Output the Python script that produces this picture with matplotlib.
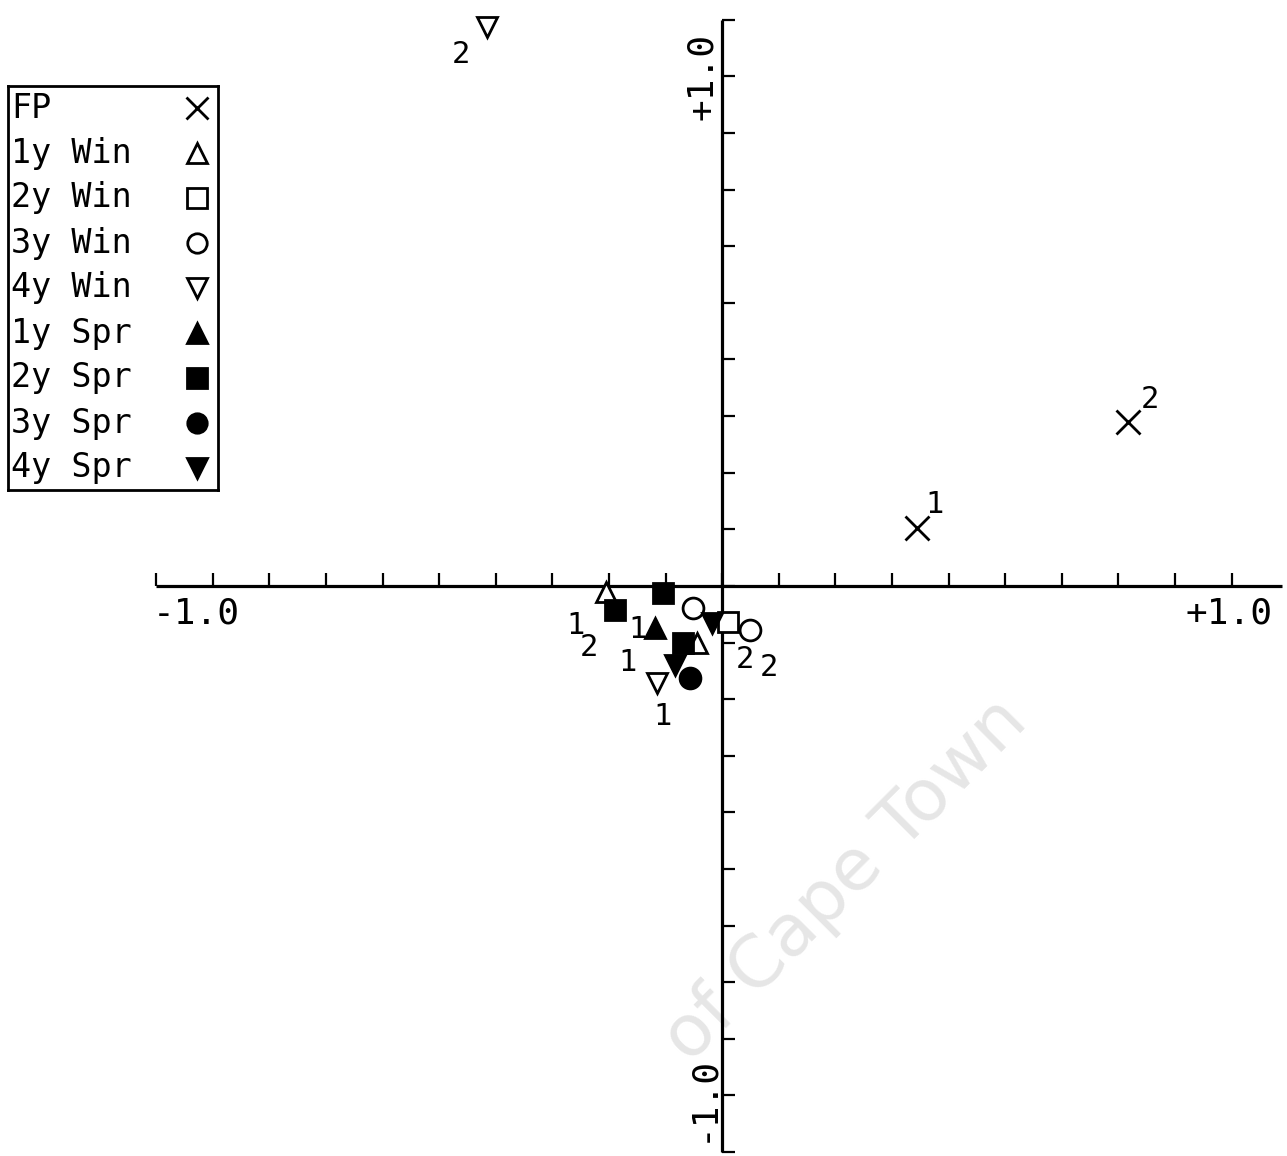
import numpy as np
import matplotlib
matplotlib.use("Agg")
import matplotlib.pyplot as plt

plt.rcParams['font.family'] = ['DejaVu Sans Mono']

# legend entries / groups
groups = ["FP", "1y Win", "2y Win", "3y Win", "4y Win", "1y Spr", "2y Spr", "3y Spr", "4y Spr"]
markers = ["x", "^", "s", "o", "v", "^", "s", "o", "v"]
filled = [True, False, False, False, False, True, True, True, True]

# ordination scores (axis 1, axis 2)
x_vals = [[0.345, 0.717], [-0.205, -0.044], [0.011], [-0.051, 0.049], [-0.415, -0.115],
          [-0.118], [-0.189, -0.104, -0.069], [-0.057], [-0.018, -0.083]]
y_vals = [[0.102, 0.290], [-0.011, -0.101], [-0.064], [-0.039, -0.078], [0.988, -0.171],
          [-0.074], [-0.042, -0.012, -0.101], [-0.163], [-0.065, -0.140]]
pt_labels = [["1", "2"], ["1", ""], ["2"], ["", "2"], ["2", "1"],
             ["1"], ["2", "", "1"], [""], ["", ""]]
# label offsets in points
pt_offsets = [[(12, 17), (16, 16)], [(-22, -24), (0, 0)], [(12, -27)], [(0, 0), (14, -27)],
              [(-19, -20), (4, -24)], [(-13, -1)], [(-19, -27), (0, 0), (-40, -14)], [(0, 0)],
              [(0, 0), (0, 0)]]

ticks = np.arange(-10, 11) / 10.0

fig = plt.figure(figsize=(12.87, 11.56), dpi=100)
ax = fig.add_axes([0, 0, 1, 1])
ax.set_xlim(-1.276, 0.998)
ax.set_ylim(-1.007, 1.035)
ax.axis('off')

# watermark (only the part that shows inside the page)
ax.text(0.52, -0.22, "of Cape Town", rotation=45, rotation_mode='anchor',
        ha='right', va='center', fontsize=52, color='#e6e6e6',
        family='DejaVu Sans', zorder=0)

# axes through the origin
lw = 2.3
ax.plot([-1.0, 0.99], [0, 0], color='black', lw=lw, solid_capstyle='butt')
ax.plot([0, 0], [-1.0, 1.0], color='black', lw=lw, solid_capstyle='butt')
tl = 0.022
ax.vlines(ticks, 0, tl, color='black', lw=1.6)
ax.hlines(ticks, 0, tl, color='black', lw=1.6)

ax.text(-0.93, -0.048, "-1.0", fontsize=26, ha='center', va='center')
ax.text(0.895, -0.048, "+1.0", fontsize=26, ha='center', va='center')
ax.text(-0.006, 0.9, "+1.0", fontsize=26, ha='right', va='center', rotation=90)
ax.text(-0.006, -0.905, "-1.0", fontsize=26, ha='right', va='center', rotation=90)

for g in range(len(groups)):
    fc = 'black' if filled[g] else 'white'
    ms = 15 if markers[g] != 'x' else 17
    ax.plot(x_vals[g], y_vals[g], linestyle='none', marker=markers[g], markersize=ms,
            markerfacecolor=fc, markeredgecolor='black', markeredgewidth=2, zorder=3)
    for xi, yi, lab, off in zip(x_vals[g], y_vals[g], pt_labels[g], pt_offsets[g]):
        if lab:
            ax.annotate(lab, (xi, yi), xytext=off, textcoords='offset points',
                        fontsize=22, ha='center', va='center', zorder=4)

# legend box (markers on the right)
lax = fig.add_axes([8 / 1287, 1 - 490 / 1156, 210 / 1287, 404 / 1156])
lax.set_xlim(0, 210)
lax.set_ylim(404, 0)
lax.set_xticks([])
lax.set_yticks([])
for s in lax.spines.values():
    s.set_linewidth(2)
for i, name in enumerate(groups):
    yy = 22 + 45 * i
    lax.text(3, yy, name, fontsize=24, ha='left', va='center')
    fc = 'black' if filled[i] else 'white'
    lax.plot([189], [yy], marker=markers[i], markersize=14 if markers[i] != 'x' else 16,
             markerfacecolor=fc, markeredgecolor='black', markeredgewidth=2)

fig.savefig("out.png", dpi=100)
